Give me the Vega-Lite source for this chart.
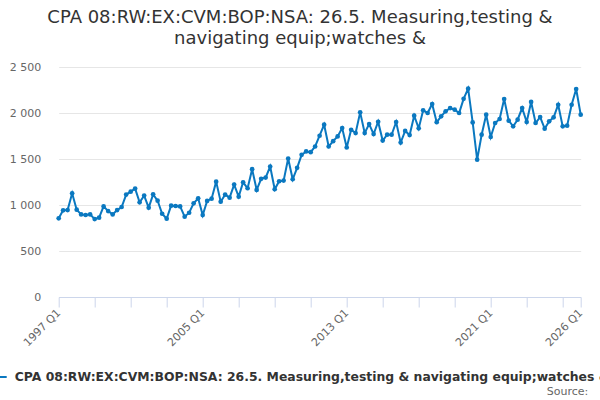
{
  "$schema": "https://vega.github.io/schema/vega-lite/v6.json",
  "autosize": {"type": "none"},
  "padding": {"left": 58.7, "top": 67, "right": 19.3, "bottom": 103},
  "width": 522,
  "height": 230,
  "background": "white",
  "config": {
    "font": "DejaVu Sans",
    "view": {"stroke": null}
  },
  "title": {
    "text": ["CPA 08:RW:EX:CVM:BOP:NSA: 26.5. Measuring,testing &", "navigating equip;watches &"],
    "fontSize": 18,
    "fontWeight": "normal",
    "color": "#333333",
    "anchor": "middle",
    "dx": -19.7,
    "offset": 13,
    "lineHeight": 21.5
  },
  "data": {
    "values": [
      {"date": "1997-01-01", "value": 855}, {"date": "1997-04-01", "value": 942}, {"date": "1997-07-01", "value": 945}, {"date": "1997-10-01", "value": 1127},
      {"date": "1998-01-01", "value": 949}, {"date": "1998-04-01", "value": 898}, {"date": "1998-07-01", "value": 891}, {"date": "1998-10-01", "value": 898},
      {"date": "1999-01-01", "value": 847}, {"date": "1999-04-01", "value": 862}, {"date": "1999-07-01", "value": 985}, {"date": "1999-10-01", "value": 934},
      {"date": "2000-01-01", "value": 898}, {"date": "2000-04-01", "value": 945}, {"date": "2000-07-01", "value": 978}, {"date": "2000-10-01", "value": 1113},
      {"date": "2001-01-01", "value": 1145}, {"date": "2001-04-01", "value": 1178}, {"date": "2001-07-01", "value": 1029}, {"date": "2001-10-01", "value": 1102},
      {"date": "2002-01-01", "value": 971}, {"date": "2002-04-01", "value": 1116}, {"date": "2002-07-01", "value": 1047}, {"date": "2002-10-01", "value": 905},
      {"date": "2003-01-01", "value": 851}, {"date": "2003-04-01", "value": 993}, {"date": "2003-07-01", "value": 989}, {"date": "2003-10-01", "value": 985},
      {"date": "2004-01-01", "value": 873}, {"date": "2004-04-01", "value": 916}, {"date": "2004-07-01", "value": 1018}, {"date": "2004-10-01", "value": 1073},
      {"date": "2005-01-01", "value": 890}, {"date": "2005-04-01", "value": 1044}, {"date": "2005-07-01", "value": 1069}, {"date": "2005-10-01", "value": 1254},
      {"date": "2006-01-01", "value": 1036}, {"date": "2006-04-01", "value": 1113}, {"date": "2006-07-01", "value": 1080}, {"date": "2006-10-01", "value": 1222},
      {"date": "2007-01-01", "value": 1091}, {"date": "2007-04-01", "value": 1247}, {"date": "2007-07-01", "value": 1182}, {"date": "2007-10-01", "value": 1389},
      {"date": "2008-01-01", "value": 1164}, {"date": "2008-04-01", "value": 1284}, {"date": "2008-07-01", "value": 1298}, {"date": "2008-10-01", "value": 1418},
      {"date": "2009-01-01", "value": 1171}, {"date": "2009-04-01", "value": 1258}, {"date": "2009-07-01", "value": 1265}, {"date": "2009-10-01", "value": 1505},
      {"date": "2010-01-01", "value": 1280}, {"date": "2010-04-01", "value": 1404}, {"date": "2010-07-01", "value": 1545}, {"date": "2010-10-01", "value": 1582},
      {"date": "2011-01-01", "value": 1574}, {"date": "2011-04-01", "value": 1636}, {"date": "2011-07-01", "value": 1753}, {"date": "2011-10-01", "value": 1873},
      {"date": "2012-01-01", "value": 1636}, {"date": "2012-04-01", "value": 1694}, {"date": "2012-07-01", "value": 1745}, {"date": "2012-10-01", "value": 1836},
      {"date": "2013-01-01", "value": 1625}, {"date": "2013-04-01", "value": 1818}, {"date": "2013-07-01", "value": 1782}, {"date": "2013-10-01", "value": 2007},
      {"date": "2014-01-01", "value": 1782}, {"date": "2014-04-01", "value": 1880}, {"date": "2014-07-01", "value": 1771}, {"date": "2014-10-01", "value": 1905},
      {"date": "2015-01-01", "value": 1700}, {"date": "2015-04-01", "value": 1764}, {"date": "2015-07-01", "value": 1764}, {"date": "2015-10-01", "value": 1902},
      {"date": "2016-01-01", "value": 1678}, {"date": "2016-04-01", "value": 1805}, {"date": "2016-07-01", "value": 1760}, {"date": "2016-10-01", "value": 1971},
      {"date": "2017-01-01", "value": 1833}, {"date": "2017-04-01", "value": 2029}, {"date": "2017-07-01", "value": 2000}, {"date": "2017-10-01", "value": 2098},
      {"date": "2018-01-01", "value": 1900}, {"date": "2018-04-01", "value": 1964}, {"date": "2018-07-01", "value": 2018}, {"date": "2018-10-01", "value": 2054},
      {"date": "2019-01-01", "value": 2036}, {"date": "2019-04-01", "value": 2000}, {"date": "2019-07-01", "value": 2154}, {"date": "2019-10-01", "value": 2264},
      {"date": "2020-01-01", "value": 1898}, {"date": "2020-04-01", "value": 1493}, {"date": "2020-07-01", "value": 1764}, {"date": "2020-10-01", "value": 1982},
      {"date": "2021-01-01", "value": 1739}, {"date": "2021-04-01", "value": 1891}, {"date": "2021-07-01", "value": 1935}, {"date": "2021-10-01", "value": 2152},
      {"date": "2022-01-01", "value": 1917}, {"date": "2022-04-01", "value": 1855}, {"date": "2022-07-01", "value": 1927}, {"date": "2022-10-01", "value": 2054},
      {"date": "2023-01-01", "value": 1902}, {"date": "2023-04-01", "value": 2120}, {"date": "2023-07-01", "value": 1891}, {"date": "2023-10-01", "value": 1956},
      {"date": "2024-01-01", "value": 1830}, {"date": "2024-04-01", "value": 1909}, {"date": "2024-07-01", "value": 1953}, {"date": "2024-10-01", "value": 2090},
      {"date": "2025-01-01", "value": 1855}, {"date": "2025-04-01", "value": 1862}, {"date": "2025-07-01", "value": 2090}, {"date": "2025-10-01", "value": 2261},
      {"date": "2026-01-01", "value": 1982}
    ]
  },
  "encoding": {
    "x": {
      "field": "date",
      "type": "temporal",
      "scale": {"type": "utc", "domain": [{"year": 1997, "month": 1, "date": 1, "utc": true}, {"year": 2026, "month": 1, "date": 1, "utc": true}]},
      "axis": {
        "values": [
          {"year": 1997, "month": 1, "date": 1, "utc": true}, {"year": 1999, "month": 1, "date": 1, "utc": true},
          {"year": 2001, "month": 1, "date": 1, "utc": true}, {"year": 2003, "month": 1, "date": 1, "utc": true},
          {"year": 2005, "month": 1, "date": 1, "utc": true}, {"year": 2007, "month": 1, "date": 1, "utc": true},
          {"year": 2009, "month": 1, "date": 1, "utc": true}, {"year": 2011, "month": 1, "date": 1, "utc": true},
          {"year": 2013, "month": 1, "date": 1, "utc": true}, {"year": 2015, "month": 1, "date": 1, "utc": true},
          {"year": 2017, "month": 1, "date": 1, "utc": true}, {"year": 2019, "month": 1, "date": 1, "utc": true},
          {"year": 2021, "month": 1, "date": 1, "utc": true}, {"year": 2023, "month": 1, "date": 1, "utc": true},
          {"year": 2025, "month": 1, "date": 1, "utc": true}, {"year": 2026, "month": 1, "date": 1, "utc": true}
        ],
        "labelExpr": "(utcyear(datum.value) == 1997 || utcyear(datum.value) == 2005 || utcyear(datum.value) == 2013 || utcyear(datum.value) == 2021 || utcyear(datum.value) == 2026) ? utcyear(datum.value) + ' Q1' : ''",
        "labelAngle": -45,
        "labelAlign": "right",
        "labelBaseline": "middle",
        "labelFontSize": 11,
        "labelColor": "#666666",
        "labelPadding": 4,
        "labelOverlap": false,
        "labelFlush": false,
        "grid": false,
        "domainColor": "#ccd6eb",
        "tickColor": "#ccd6eb",
        "tickSize": 10,
        "title": "Source:",
        "titleFontSize": 11,
        "titleFontWeight": "normal",
        "titleColor": "#666666",
        "titleAlign": "right",
        "titleAnchor": "end",
        "titleBaseline": "alphabetic",
        "titleX": 529,
        "titleY": 97
      }
    },
    "y": {
      "field": "value",
      "type": "quantitative",
      "scale": {"domain": [0, 2500], "nice": false},
      "axis": {
        "values": [0, 500, 1000, 1500, 2000, 2500],
        "labelExpr": "replace(format(datum.value, ','), ',', ' ')",
        "title": null,
        "domain": false,
        "ticks": false,
        "labelFontSize": 11,
        "labelColor": "#666666",
        "labelPadding": 18,
        "gridColor": "#e6e6e6"
      }
    },
    "color": {
      "datum": "CPA 08:RW:EX:CVM:BOP:NSA: 26.5. Measuring,testing & navigating equip;watches &",
      "type": "nominal",
      "scale": {"range": ["#0a78c0"]},
      "legend": {
        "title": null,
        "orient": "none",
        "legendX": -69,
        "legendY": 301,
        "symbolType": "stroke",
        "symbolSize": 256,
        "symbolStrokeWidth": 2,
        "labelFontSize": 12.4,
        "labelFontWeight": "bold",
        "labelColor": "#333333",
        "labelLimit": 2000,
        "labelOffset": 7
      }
    }
  },
  "layer": [
    {"mark": {"type": "line", "strokeWidth": 2}},
    {"mark": {"type": "point", "filled": true, "size": 22, "opacity": 1}}
  ]
}
